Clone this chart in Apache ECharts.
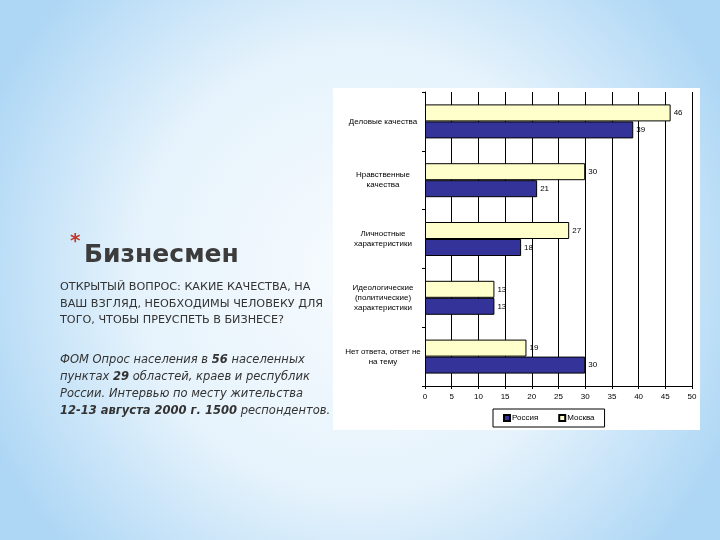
<!DOCTYPE html>
<html><head><meta charset="utf-8">
<script src="https://cdn.jsdelivr.net/npm/echarts@6/dist/echarts.min.js"></script>
<style>html,body{margin:0;padding:0;}#c{width:720px;height:540px;}</style>
</head><body><div id="c"></div>
<script>
const categories = ['Деловые качества', 'Нравственные\nкачества', 'Личностные\nхарактеристики', 'Идеологические\n(политические)\nхарактеристики', 'Нет ответа, ответ не\nна тему'];
const seriesNames = ['Россия', 'Москва'];
const russia = [39, 21, 18, 13, 30];
const moscow = [46, 30, 27, 13, 19];
const xTicks = [0, 5, 10, 15, 20, 25, 30, 35, 40, 45, 50];

const chart = echarts.init(document.getElementById('c'), null, {renderer: 'canvas'});
const lblFont = 'Liberation Sans';
const slideFont = 'DejaVu Sans';
chart.setOption({
  backgroundColor: {type: 'radial', x: 0.5, y: 0.5, r: 0.75, colorStops: [
    {offset: 0, color: '#f7fbfe'}, {offset: 0.55, color: '#e6f3fc'}, {offset: 1, color: '#aed7f5'}]},
  animation: false,
  graphic: [
    {type: 'rect', z: -10, shape: {x: 333, y: 88, width: 367, height: 342}, style: {fill: '#ffffff'}},
    {type: 'text', left: 70, top: 232, style: {text: '*', fill: '#c0392b', font: 'bold 20px ' + slideFont}},
    {type: 'text', left: 84, top: 243, style: {text: 'Бизнесмен', fill: '#3c3c3c', font: 'bold 25px ' + slideFont}},
    {type: 'text', left: 60, top: 279, style: {text: 'ОТКРЫТЫЙ ВОПРОС: КАКИЕ КАЧЕСТВА, НА\nВАШ ВЗГЛЯД, НЕОБХОДИМЫ ЧЕЛОВЕКУ ДЛЯ\nТОГО, ЧТОБЫ ПРЕУСПЕТЬ В БИЗНЕСЕ?', fill: '#333333', font: '11.2px ' + slideFont, lineHeight: 16.5}},
    {type: 'text', left: 60, top: 352, style: {
      text: '{i|ФОМ Опрос населения в }{b|56}{i| населенных}\n{i|пунктах }{b|29}{i| областей, краев и республик}\n{i|России. Интервью по месту жительства}\n{b|12-13 августа 2000 г. 1500}{i| респондентов.}',
      fill: '#333333', font: 'italic 11.5px ' + slideFont, lineHeight: 17,
      rich: {i: {font: 'italic 11.5px ' + slideFont, fill: '#333333', lineHeight: 17},
             b: {font: 'italic bold 11.5px ' + slideFont, fill: '#333333', lineHeight: 17}}}}
  ],
  legend: {
    data: [{name: 'Россия'}, {name: 'Москва'}],
    left: 493, top: 409, orient: 'horizontal', itemWidth: 6, itemHeight: 6, itemGap: 20,
    borderColor: '#000', borderWidth: 1, padding: [5, 10, 5, 10],
    icon: 'rect',
    textStyle: {fontFamily: lblFont, fontSize: 8, color: '#000', padding: [0, 0, 0, -3]}
  },
  grid: {left: 425, right: 28, top: 92, bottom: 154, containLabel: false},
  xAxis: {
    type: 'value', min: 0, max: 50, interval: 5,
    axisLine: {show: true, lineStyle: {color: '#000', width: 1}},
    axisTick: {show: true, length: 3, lineStyle: {color: '#000'}},
    axisLabel: {fontFamily: lblFont, fontSize: 8, color: '#000', margin: 7,
      formatter: v => xTicks.includes(v) ? String(v) : ''},
    splitLine: {show: true, lineStyle: {color: '#000', width: 1}}
  },
  yAxis: {
    type: 'category', data: categories, inverse: true,
    axisLine: {show: true, lineStyle: {color: '#000', width: 1}},
    axisTick: {show: true, length: 3, inside: false, lineStyle: {color: '#000'}},
    axisLabel: {fontFamily: lblFont, fontSize: 8, color: '#000', align: 'center', margin: 42, lineHeight: 10}
  },
  series: [
    {name: 'Москва', type: 'bar', data: moscow, barWidth: 17, barGap: '0%',
      itemStyle: {color: '#ffffcc', borderColor: '#000', borderWidth: 1},
      label: {show: true, position: 'right', distance: 3, fontFamily: lblFont, fontSize: 8, color: '#000'}},
    {name: 'Россия', type: 'bar', data: russia, barWidth: 17, barGap: '0%',
      itemStyle: {color: '#333399', borderColor: '#000', borderWidth: 1},
      label: {show: true, position: 'right', distance: 3, fontFamily: lblFont, fontSize: 8, color: '#000'}}
  ]
});
</script></body></html>
